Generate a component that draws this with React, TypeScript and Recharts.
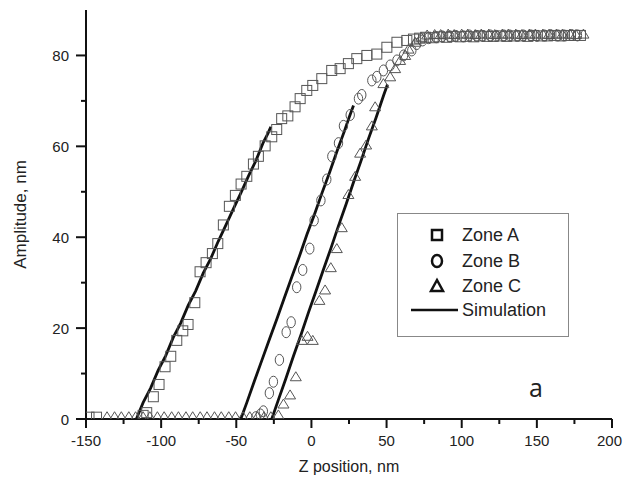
import React from 'react';
import { ComposedChart, Scatter, Line, XAxis, YAxis } from 'recharts';

// measured points, Z position (nm) vs amplitude (nm)
const zoneA = [
  [-148, 0.4], [-143, 0.4], [-112, 0.8], [-109.6, 1.4], [-105.2, 4.9], [-101.4, 7.6], [-97.4, 11.5],
  [-93.6, 13.8], [-89.6, 17.3], [-85.6, 19.4], [-82.1, 20.8], [-77.6, 25.6], [-74.1, 32.4], [-70.1, 34.4],
  [-65.9, 36.4], [-62.3, 38.6], [-58.6, 42.7], [-54.6, 46.8], [-50.6, 49.2], [-46.8, 51.7], [-43, 53.4],
  [-38.6, 56.1], [-35.3, 57.8], [-30.8, 60.1], [-26.4, 62.1], [-23.1, 63.7], [-19.8, 66.1], [-15.7, 66.7],
  [-10.9, 68.7], [-7.5, 70.5], [-3.1, 72.3], [0.9, 73.4], [6.9, 74.9], [13.5, 76.7], [19.1, 77.1],
  [24.6, 78.2], [30.2, 79.3], [36.9, 80], [43.5, 80.3], [50.2, 81.8], [56.9, 82.9], [63.5, 83.3],
  [67.9, 83.6], [72, 83.8], [76, 84], [81, 83.9], [85, 84.1], [90, 84], [94, 84.2], [99, 84.1],
  [103, 84.2], [108, 84.1], [112, 84.3], [117, 84.2], [121, 84.2], [126, 84.3], [130, 84.2], [135, 84.3],
  [139, 84.3], [144, 84.2], [148, 84.4], [153, 84.3], [157, 84.3], [162, 84.4], [166, 84.3], [171, 84.4],
  [175, 84.4], [179, 84.4],
];

const zoneB = [
  [-37, 0.4], [-34, 1.0], [-32, 1.7], [-28, 5.7], [-25.3, 8.2], [-21.3, 13], [-16.8, 19.1], [-13.5, 21.3],
  [-9.8, 29], [-5.8, 32.8], [-1.1, 37.5], [1.8, 43.7], [6.3, 48.1], [10.2, 52.7], [13.6, 57.8], [18, 60.7],
  [21.3, 64.5], [25.8, 66.9], [31.3, 70.5], [33.5, 71.3], [40.2, 74.5], [43.5, 75.3], [47.9, 76.7],
  [52.4, 77.8], [56.9, 78.9], [61.3, 80], [66.8, 81.1], [70, 82.5], [74, 83.3], [78, 83.8], [83, 84],
  [87, 84.2], [92, 84.2], [96, 84.3], [101, 84.2], [105, 84.4], [110, 84.3], [114, 84.3], [119, 84.4],
  [123, 84.3], [128, 84.4], [132, 84.4], [137, 84.3], [141, 84.4], [146, 84.4], [150, 84.3], [155, 84.4],
  [159, 84.5], [164, 84.4], [168, 84.4], [173, 84.5], [177, 84.4],
];

const zoneC = [
  [-136, 0.5], [-131, 0.5], [-126.5, 0.5], [-121.5, 0.5], [-117, 0.5], [-112, 0.5], [-107.5, 0.5],
  [-102.5, 0.5], [-98, 0.5], [-93, 0.5], [-88.5, 0.5], [-83.5, 0.5], [-79, 0.5], [-74, 0.5], [-69.5, 0.5],
  [-64.5, 0.5], [-60, 0.5], [-55, 0.5], [-50.5, 0.5], [-45.5, 0.5], [-41, 0.5], [-36, 0.5], [-31.5, 0.5],
  [-27, 0.5], [-22, 0.9], [-18.6, 3.3], [-14.2, 5.3], [-10.4, 9.3], [-6.4, 17.3], [-2.6, 18.2], [0.9, 17.3],
  [5.3, 26.1], [9.1, 28.4], [12.9, 33.3], [16.9, 37.5], [20.2, 42.1], [24.6, 49.4], [29.1, 53.4],
  [32.4, 58.5], [36.4, 60.3], [40.2, 64.5], [42.4, 68.7], [47.9, 73.8], [52.4, 75.3], [55.7, 77.1],
  [59, 78.9], [62.4, 80], [64.6, 81.4], [69, 82.9], [73, 84], [77, 84.5], [82, 84.6], [86, 84.6],
  [91, 84.7], [95, 84.6], [100, 84.7], [104, 84.7], [109, 84.6], [113, 84.7], [118, 84.7], [122, 84.6],
  [127, 84.7], [131, 84.7], [136, 84.7], [140, 84.6], [145, 84.7], [149, 84.7], [154, 84.7], [158, 84.6],
  [163, 84.7], [167, 84.7], [172, 84.7], [176, 84.6], [181, 84.7],
];

// simulation curves (slightly jagged)
const simA = [
  [-116.5, 0], [-112, 3.6], [-107, 6.8], [-102, 10.7], [-97, 13.9], [-92, 17.9], [-87, 21.1], [-82, 25.0],
  [-77, 28.2], [-72, 32.1], [-67, 35.3], [-62, 39.1], [-57, 42.6], [-52, 46.2], [-47, 49.7], [-42, 53.4],
  [-37, 56.8], [-32, 60.9], [-29, 62.8], [-27, 64.3],
];
const simB = [
  [-47, 0], [-43, 3.6], [-38, 8.3], [-33, 12.9], [-28, 17.5], [-23, 22.0], [-18, 26.7], [-13, 31.3],
  [-8, 35.8], [-3, 40.6], [2, 45.0], [7, 49.7], [12, 54.2], [17, 58.9], [22, 63.4], [25, 66.3], [28, 69],
];
const simC = [
  [-26.4, 0], [-22, 4.2], [-17, 8.9], [-12, 13.8], [-7, 18.5], [-2, 23.4], [3, 28.1], [8, 32.9],
  [13, 37.6], [18, 42.5], [23, 47.2], [28, 52.1], [33, 56.8], [38, 61.7], [43, 66.3], [48, 71.2], [50.6, 73.6],
];

const xTicks = [-150, -125, -100, -75, -50, -25, 0, 25, 50, 75, 100, 125, 150, 175, 200];
const yTicks = [0, 10, 20, 30, 40, 50, 60, 70, 80];

const toPts = (arr: number[][]) => arr.map(([x, y]) => ({ x, y }));

const FONT = '"Liberation Sans", Arial, sans-serif';
const MARK = '#555';

const XTick = (props: any) => {
  const { x, y, payload } = props;
  const major = payload.value % 50 === 0;
  // last label sits against the right edge, keep it inside
  const last = payload.value === xTicks[xTicks.length - 1];
  return (
    <g>
      <line x1={x} y1={y} x2={x} y2={y + (major ? 9 : 5)} stroke="#111" strokeWidth={2} />
      {major && (
        <text
          x={last ? x + 10 : x}
          y={y + 27}
          textAnchor={last ? 'end' : 'middle'}
          fontSize={15}
          fill="#222"
          fontFamily={FONT}
        >
          {payload.value}
        </text>
      )}
    </g>
  );
};

const YTick = (props: any) => {
  const { x, y, payload } = props;
  const major = payload.value % 20 === 0;
  return (
    <g>
      <line x1={x} y1={y} x2={x - (major ? 10 : 5)} y2={y} stroke="#111" strokeWidth={2} />
      {major && (
        <text x={x - 17} y={y + 5.5} textAnchor="end" fontSize={15} fill="#222" fontFamily={FONT}>
          {payload.value}
        </text>
      )}
    </g>
  );
};

const Square = (p: any) => (
  <rect x={p.cx - 5} y={p.cy - 5} width={10} height={10} fill="none" stroke={MARK} strokeWidth={1} />
);
const Ellipse = (p: any) => (
  <ellipse cx={p.cx} cy={p.cy} rx={4.2} ry={5.5} fill="none" stroke={MARK} strokeWidth={1} />
);
const Tri = (p: any) => (
  <path d={`M${p.cx},${p.cy - 5} L${p.cx + 5.5},${p.cy + 4} L${p.cx - 5.5},${p.cy + 4} Z`} fill="none" stroke={MARK} strokeWidth={1} />
);

const LegendBox = () => (
  <div
    style={{
      position: 'absolute', left: 397, top: 213, width: 172, height: 124,
      border: '1px solid #888', boxSizing: 'border-box', background: '#fff',
    }}
  >
    <svg width={172} height={124} style={{ position: 'absolute', left: -1, top: -1 }}>
      <rect x={35} y={17} width={10} height={10} fill="none" stroke="#111" strokeWidth={2.5} />
      <ellipse cx={40} cy={48} rx={5} ry={6} fill="none" stroke="#111" strokeWidth={2.5} />
      <path d="M40,67 L46,78 L34,78 Z" fill="none" stroke="#111" strokeWidth={2.5} />
      <line x1={14} y1={97} x2={61} y2={97} stroke="#111" strokeWidth={2.5} />
      <g fontFamily={FONT} fontSize={18} fill="#222">
        <text x={65} y={28}>Zone A</text>
        <text x={65} y={54}>Zone B</text>
        <text x={65} y={79}>Zone C</text>
        <text x={65} y={103}>Simulation</text>
      </g>
    </svg>
  </div>
);

export default function App() {
  return (
    <div style={{ position: 'absolute', left: 0, top: 0, width: 623, height: 481, background: '#fff', overflow: 'hidden' }}>
      <ComposedChart width={623} height={481} margin={{ top: 10, right: 11, left: 0, bottom: 0 }}>
        <XAxis
          type="number"
          dataKey="x"
          domain={[-150, 200]}
          ticks={xTicks}
          interval={0}
          allowDataOverflow
          height={62}
          tickSize={0}
          tickMargin={0}
          tickLine={false}
          axisLine={{ stroke: '#111', strokeWidth: 2 }}
          tick={<XTick />}
          label={{ value: 'Z position, nm', position: 'insideBottom', offset: 9, fontSize: 16, fill: '#222', fontFamily: FONT }}
        />
        <YAxis
          type="number"
          dataKey="y"
          domain={[0, 90]}
          ticks={yTicks}
          interval={0}
          allowDataOverflow
          width={86}
          tickSize={0}
          tickMargin={0}
          tickLine={false}
          axisLine={{ stroke: '#111', strokeWidth: 2 }}
          tick={<YTick />}
          label={{
            value: 'Amplitude, nm', angle: -90, position: 'insideLeft', offset: 20,
            fontSize: 17, fill: '#222', fontFamily: FONT, style: { textAnchor: 'middle' },
          }}
        />
        <Scatter name="Zone A" data={toPts(zoneA)} shape={<Square />} isAnimationActive={false} />
        <Scatter name="Zone B" data={toPts(zoneB)} shape={<Ellipse />} isAnimationActive={false} />
        <Scatter name="Zone C" data={toPts(zoneC)} shape={<Tri />} isAnimationActive={false} />
        <Line data={toPts(simA)} dataKey="y" type="linear" dot={false} stroke="#111" strokeWidth={2.8} isAnimationActive={false} />
        <Line data={toPts(simB)} dataKey="y" type="linear" dot={false} stroke="#111" strokeWidth={2.8} isAnimationActive={false} />
        <Line data={toPts(simC)} dataKey="y" type="linear" dot={false} stroke="#111" strokeWidth={2.8} isAnimationActive={false} />
      </ComposedChart>
      <LegendBox />
      <div
        style={{
          position: 'absolute', left: 529, top: 375, fontFamily: '"Open Sans", sans-serif',
          fontSize: 25, color: '#222', lineHeight: 1,
        }}
      >
        a
      </div>
    </div>
  );
}
